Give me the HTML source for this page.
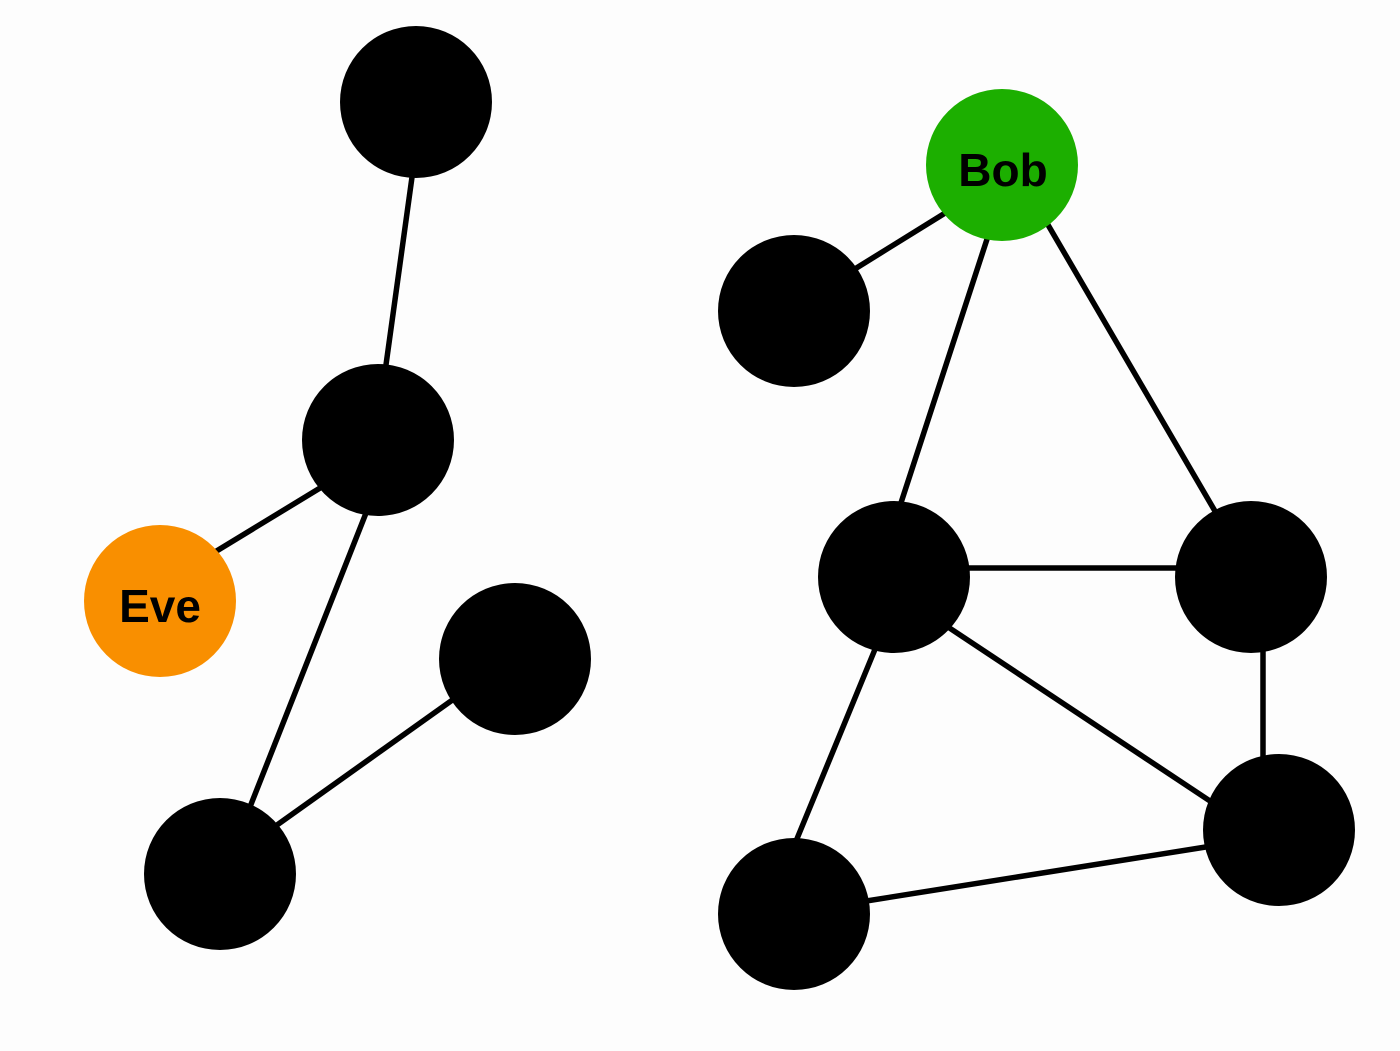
<!DOCTYPE html>
<html><head><style>
html,body{margin:0;padding:0;background:#fdfdfd;}
svg{display:block;}
text{font-family:"Liberation Sans",sans-serif;font-weight:bold;font-size:46px;fill:#000;}
</style></head><body>
<svg width="1400" height="1051" viewBox="0 0 1400 1051">
<rect width="1400" height="1051" fill="#fdfdfd"/>
<g stroke="#000" stroke-width="5.5">
<line x1="413" y1="170" x2="385" y2="372"/>
<line x1="325" y1="485" x2="210" y2="555"/>
<line x1="368" y1="508" x2="248" y2="812"/>
<line x1="270" y1="830" x2="458" y2="696"/>
<line x1="950" y1="210" x2="850" y2="272"/>
<line x1="990" y1="230" x2="898" y2="512"/>
<line x1="1044" y1="218" x2="1219" y2="518"/>
<line x1="960" y1="568" x2="1190" y2="568"/>
<line x1="945" y1="625" x2="1216" y2="805"/>
<line x1="878" y1="642" x2="794" y2="846"/>
<line x1="1263" y1="640" x2="1263" y2="770"/>
<line x1="1212" y1="846" x2="860" y2="902"/>
</g>
<g fill="#000">
<circle cx="416" cy="102" r="76"/>
<circle cx="378" cy="440" r="76"/>
<circle cx="515" cy="659" r="76"/>
<circle cx="220" cy="874" r="76"/>
<circle cx="794" cy="311" r="76"/>
<circle cx="894" cy="577" r="76"/>
<circle cx="1251" cy="577" r="76"/>
<circle cx="1279" cy="830" r="76"/>
<circle cx="794" cy="914" r="76"/>
</g>
<circle cx="160" cy="601" r="76" fill="#f98f00"/>
<circle cx="1002" cy="165" r="76" fill="#1caf00"/>
<text x="160" y="622" text-anchor="middle">Eve</text>
<text x="1003" y="186" text-anchor="middle">Bob</text>
</svg>
</body></html>
